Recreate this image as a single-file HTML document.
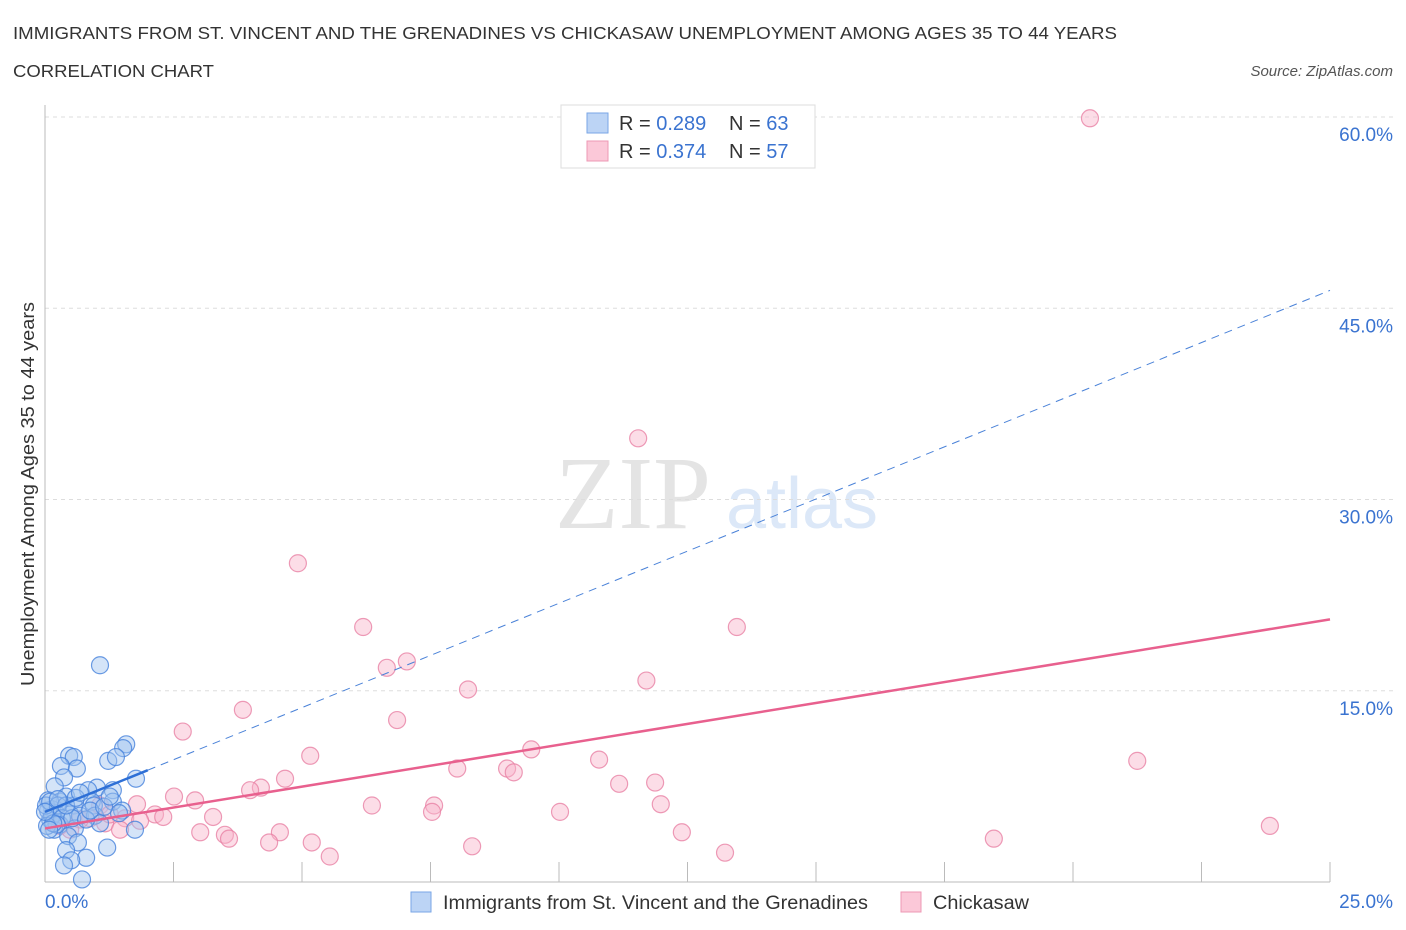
<!DOCTYPE html>
<html><head><meta charset="utf-8">
<style>
body{margin:0;background:#fff;font-family:"Liberation Sans",sans-serif;}
#wrap{position:relative;width:1406px;height:930px;overflow:hidden;}
</style></head>
<body>
<div id="wrap">
<svg id="svg" width="1406" height="930" xmlns="http://www.w3.org/2000/svg">
<text x="13" y="39" font-size="17.5" fill="#333" textLength="1104" lengthAdjust="spacingAndGlyphs">IMMIGRANTS FROM ST. VINCENT AND THE GRENADINES VS CHICKASAW UNEMPLOYMENT AMONG AGES 35 TO 44 YEARS</text>
<text x="13" y="77" font-size="17.5" fill="#333" textLength="201" lengthAdjust="spacingAndGlyphs">CORRELATION CHART</text>
<text x="1393" y="76" font-size="15" fill="#555" font-style="italic" text-anchor="end">Source: ZipAtlas.com</text>
<text x="633" y="528" font-size="104" fill="#e4e4e4" font-family="Liberation Serif,serif" text-anchor="middle">ZIP</text>
<text x="802" y="528" font-size="72" fill="#dce8f8" text-anchor="middle">atlas</text>
<text transform="translate(34,494) rotate(-90)" font-size="18" fill="#333" text-anchor="middle" textLength="384" lengthAdjust="spacingAndGlyphs">Unemployment Among Ages 35 to 44 years</text>
<g id="grid"></g><g id="pts"></g><g id="trend"></g>
<g>
<rect x="561" y="105" width="254" height="63" fill="#fff" stroke="#ddd"/>
<rect x="587" y="113" width="21" height="20" fill="#bcd4f5" stroke="#7aa6e6"/>
<rect x="587" y="141" width="21" height="20" fill="#fbc8d8" stroke="#ee98b4"/>
<text x="619" y="130" font-size="20" fill="#333">R = <tspan fill="#3a73d0">0.289</tspan></text>
<text x="729" y="130" font-size="20" fill="#333">N = <tspan fill="#3a73d0">63</tspan></text>
<text x="619" y="158" font-size="20" fill="#333">R = <tspan fill="#3a73d0">0.374</tspan></text>
<text x="729" y="158" font-size="20" fill="#333">N = <tspan fill="#3a73d0">57</tspan></text>
</g>
<g>
<rect x="411" y="892" width="20" height="20" fill="#bcd4f5" stroke="#7aa6e6"/>
<text x="443" y="909" font-size="19" fill="#333" textLength="425" lengthAdjust="spacingAndGlyphs">Immigrants from St. Vincent and the Grenadines</text>
<rect x="901" y="892" width="20" height="20" fill="#fbc8d8" stroke="#ee98b4"/>
<text x="933" y="909" font-size="19" fill="#333" textLength="96" lengthAdjust="spacingAndGlyphs">Chickasaw</text>
</g>
</svg>
</div>
<script>
const yTicks=[15,30,45,60];
const xTickLabels=["0.0%","25.0%"];
const blueX=[1.07,1.58,1.52,1.23,1.38,0.47,0.56,0.31,0.62,0.37,1.77,1.01,0.84,1.32,0.19,0.06,0.29,0.41,0.91,0.95,1.32,1.5,0.56,0.14,0.21,0.49,0.68,0.97,1.44,1.07,0.1,0.29,0.58,1.75,0.18,0.45,0.64,1.21,0.41,0.8,0.51,0.37,0.72,0.06,0.14,0.02,0.1,0.25,0.33,0.53,0.8,0.88,0.23,0.04,0.16,0.41,0.0,0.08,0.6,1.15,0.68,1.26,0.25];
const blueY=[17.0,10.8,10.5,9.5,9.8,9.9,9.8,9.1,8.9,8.2,8.1,7.4,7.2,7.2,7.5,6.4,6.3,6.7,6.3,6.0,6.3,5.6,6.0,5.7,5.4,5.3,5.2,5.2,5.4,4.6,4.9,4.5,4.2,4.1,4.1,3.6,3.1,2.7,2.5,1.9,1.7,1.3,0.2,5.6,5.2,6.0,6.3,6.0,5.0,5.0,4.9,5.6,4.5,4.4,4.6,6.0,5.5,4.1,6.6,5.9,7.0,6.7,6.5];
const pinkX=[20.33,11.54,4.92,6.19,13.46,7.04,6.65,11.7,8.23,3.85,6.85,2.68,9.46,5.16,21.25,10.78,8.02,8.99,9.12,11.87,11.17,4.2,3.99,4.67,2.51,2.92,11.98,6.36,7.57,1.79,7.53,10.02,3.27,2.14,2.3,1.56,1.85,0.88,1.17,23.83,12.39,1.46,3.02,3.5,4.57,3.58,4.36,5.19,18.46,8.31,13.23,5.54,0.29,0.68,1.07,0.49,1.26];
const pinkY=[59.9,34.8,25.0,20.0,20.0,17.3,16.8,15.8,15.1,13.5,12.7,11.8,10.4,9.9,9.5,9.6,8.9,8.9,8.6,7.8,7.7,7.4,7.2,8.1,6.7,6.4,6.1,6.0,6.0,6.1,5.5,5.5,5.1,5.3,5.1,5.0,4.8,5.0,4.6,4.4,3.9,4.1,3.9,3.7,3.9,3.4,3.1,3.1,3.4,2.8,2.3,2.0,4.4,4.9,6.0,4.1,5.3];
const blueTrend=[5.5,46.4];
const pinkTrend=[4.2,20.6];
const NS="http://www.w3.org/2000/svg";
const X0=45,X1=1330,Y0=882,YPX=12.75;
function sx(v){return X0+v/25*(X1-X0);}
function sy(v){return Y0-v*YPX;}
function mk(tag,attrs,parent){const e=document.createElementNS(NS,tag);for(const k in attrs)e.setAttribute(k,attrs[k]);parent.appendChild(e);return e;}
const grid=document.getElementById('grid');
yTicks.forEach(t=>{
  const l=mk('line',{x1:X0,x2:1393,y1:sy(t),y2:sy(t),stroke:'#ddd','stroke-dasharray':'4,4'},grid);
  
  
  const tx=mk('text',{x:1393,y:sy(t)+24,'font-size':19,fill:'#3a73d0','text-anchor':'end'},grid);
  tx.textContent=t.toFixed(1)+'%';
  
  
});
const ax=mk('line',{x1:X0,x2:X0,y1:105,y2:Y0,stroke:'#bbb'},grid);


const bx=mk('line',{x1:X0,x2:X1,y1:Y0,y2:Y0,stroke:'#bbb'},grid);


for(let i=0;i<=10;i++){
  const t=mk('line',{x1:sx(i*2.5),x2:sx(i*2.5),y1:Y0,y2:Y0-20,stroke:'#bbb'},grid);
  
  
}
[[0,'start',45],[25,'end',1393]].forEach((d,i)=>{
  const t=mk('text',{x:d[2],y:908,'font-size':19,fill:'#3a73d0','text-anchor':d[1]},grid);
  t.textContent=xTickLabels[i];
  
  
});
const pts=document.getElementById('pts');
pinkX.forEach((x,i)=>{
  const c=mk('circle',{cx:sx(x),cy:sy(pinkY[i]),r:8.5,fill:'rgba(248,180,202,0.45)',stroke:'rgba(232,130,165,0.8)','stroke-width':1.2},pts);
  
  
});
blueX.forEach((x,i)=>{
  const c=mk('circle',{cx:sx(x),cy:sy(blueY[i]),r:8.5,fill:'rgba(160,196,240,0.45)',stroke:'rgba(70,130,220,0.8)','stroke-width':1.2},pts);
  
  
});
const tr=document.getElementById('trend');
const bAt=v=>blueTrend[0]+(blueTrend[1]-blueTrend[0])*v/25;
const l1=mk('line',{x1:sx(0),y1:sy(bAt(0)),x2:sx(2),y2:sy(bAt(2)),stroke:'#2d6fd6','stroke-width':2.5},tr);


const l2=mk('line',{x1:sx(2),y1:sy(bAt(2)),x2:sx(25),y2:sy(bAt(25)),stroke:'#4a82d8','stroke-width':1,'stroke-dasharray':'8,6'},tr);


const l3=mk('line',{x1:sx(0),y1:sy(pinkTrend[0]),x2:sx(25),y2:sy(pinkTrend[1]),stroke:'#e8608e','stroke-width':2.5},tr);


</script>
</body></html>
